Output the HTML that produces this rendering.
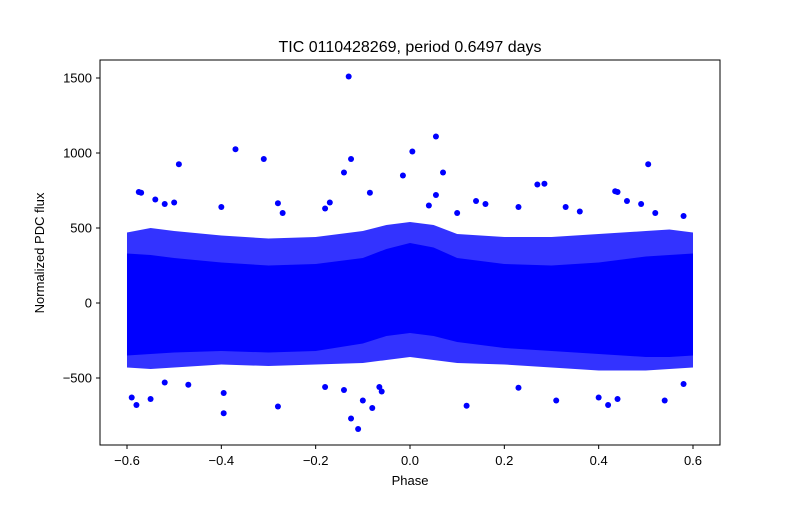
<!DOCTYPE html>
<html><head><meta charset="utf-8"><style>
body{margin:0;background:#fff;font-family:"Liberation Sans",sans-serif}
svg text{font-family:"Liberation Sans",sans-serif;fill:#000}
</style></head><body>
<svg id="chart" width="800" height="500" viewBox="0 0 800 500">
<rect width="800" height="500" fill="#fff"/>
<g id="plot"></g>
<rect x="100" y="60" width="620" height="385" fill="none" stroke="#000" stroke-width="1"/>
<g id="xticks"></g><g id="yticks"></g>
<text x="410" y="52" text-anchor="middle" font-size="16">TIC 0110428269, period 0.6497 days</text>
<text x="410" y="485" text-anchor="middle" font-size="13">Phase</text>
<text x="44" y="253" text-anchor="middle" font-size="13" transform="rotate(-90 44 253)">Normalized PDC flux</text>
</svg>
<script>
const xTicks=[-0.6,-0.4,-0.2,0.0,0.2,0.4,0.6];
const xTickLabels=["−0.6","−0.4","−0.2","0.0","0.2","0.4","0.6"];
const yTicks=[-500,0,500,1000,1500];
const yTickLabels=["−500","0","500","1000","1500"];
// envelope of the dense core (phase, upper, lower)
const bandPhase=[-0.6,-0.55,-0.5,-0.4,-0.3,-0.2,-0.1,-0.05,0,0.05,0.1,0.2,0.3,0.4,0.5,0.55,0.6];
const coreUpper=[330,320,300,270,250,260,300,360,400,370,300,260,250,270,310,320,330];
const coreLower=[-350,-340,-330,-320,-330,-320,-270,-220,-200,-220,-260,-300,-320,-340,-360,-360,-350];
const haloUpper=[470,500,480,450,430,440,480,520,540,520,460,440,440,460,480,490,470];
const haloLower=[-430,-440,-430,-410,-420,-410,-400,-380,-360,-380,-400,-410,-430,-450,-450,-440,-430];
const outPhase=[-0.13,0.055,-0.37,0.005,-0.125,-0.31,-0.49,0.505,0.07,-0.14,-0.015,0.27,0.285,0.435,0.44,-0.575,-0.57,-0.085,0.055,-0.28,-0.59,-0.58,-0.55,-0.11,-0.125,-0.395,-0.395,-0.28,0.12,0.31,0.42,0.44,0.54,0.40,-0.08,-0.1,-0.14,-0.065,-0.06,0.23,-0.18,0.58,-0.52,-0.47,-0.5,-0.52,-0.54,-0.18,-0.17,0.04,0.1,0.16,0.23,0.33,0.36,0.46,0.49,0.52,0.58,-0.4,-0.27,0.14];
const outFlux=[1510,1110,1025,1010,960,960,925,925,870,870,850,790,795,745,740,740,735,735,720,665,-630,-680,-640,-840,-770,-735,-600,-690,-685,-650,-680,-640,-650,-630,-700,-650,-580,-560,-590,-565,-560,-540,-530,-545,670,660,690,630,670,650,600,660,640,640,610,680,660,600,580,640,600,680];
const X=p=>410+p*471.67, Y=v=>303-v*0.15;
const NS="http://www.w3.org/2000/svg";
const plot=document.getElementById('plot');
function band(up,lo,op,name){
  let pts=bandPhase.map((p,i)=>X(p)+","+Y(up[i]));
  for(let i=bandPhase.length-1;i>=0;i--)pts.push(X(bandPhase[i])+","+Y(lo[i]));
  const pg=document.createElementNS(NS,'polygon');
  pg.setAttribute('points',pts.join(' '));pg.setAttribute('fill','#0000ff');pg.setAttribute('fill-opacity',op);
  pg.setAttribute('stroke','none');
  
  
  plot.appendChild(pg);
}
band(haloUpper,haloLower,0.8,'halo-band');
band(coreUpper,coreLower,1,'core-band');
outPhase.forEach((p,i)=>{
  const c=document.createElementNS(NS,'circle');
  c.setAttribute('cx',X(p));c.setAttribute('cy',Y(outFlux[i]));c.setAttribute('r',3);c.setAttribute('fill','#0000ff');
  
  
  plot.appendChild(c);
});
const xg=document.getElementById('xticks'),yg=document.getElementById('yticks');
xTicks.forEach((t,i)=>{
  const x=X(t);
  const l=document.createElementNS(NS,'line');
  l.setAttribute('x1',x);l.setAttribute('x2',x);l.setAttribute('y1',445);l.setAttribute('y2',449);l.setAttribute('stroke','#000');
  
  
  xg.appendChild(l);
  const tx=document.createElementNS(NS,'text');
  tx.setAttribute('x',x);tx.setAttribute('y',465);tx.setAttribute('text-anchor','middle');tx.setAttribute('font-size','13');tx.textContent=xTickLabels[i];
  
  
  xg.appendChild(tx);
});
yTicks.forEach((t,i)=>{
  const y=Y(t);
  const l=document.createElementNS(NS,'line');
  l.setAttribute('x1',96);l.setAttribute('x2',100);l.setAttribute('y1',y);l.setAttribute('y2',y);l.setAttribute('stroke','#000');
  
  
  yg.appendChild(l);
  const tx=document.createElementNS(NS,'text');
  tx.setAttribute('x',92);tx.setAttribute('y',y+4.5);tx.setAttribute('text-anchor','end');tx.setAttribute('font-size','13');tx.textContent=yTickLabels[i];
  
  
  yg.appendChild(tx);
});
</script>
</body></html>
